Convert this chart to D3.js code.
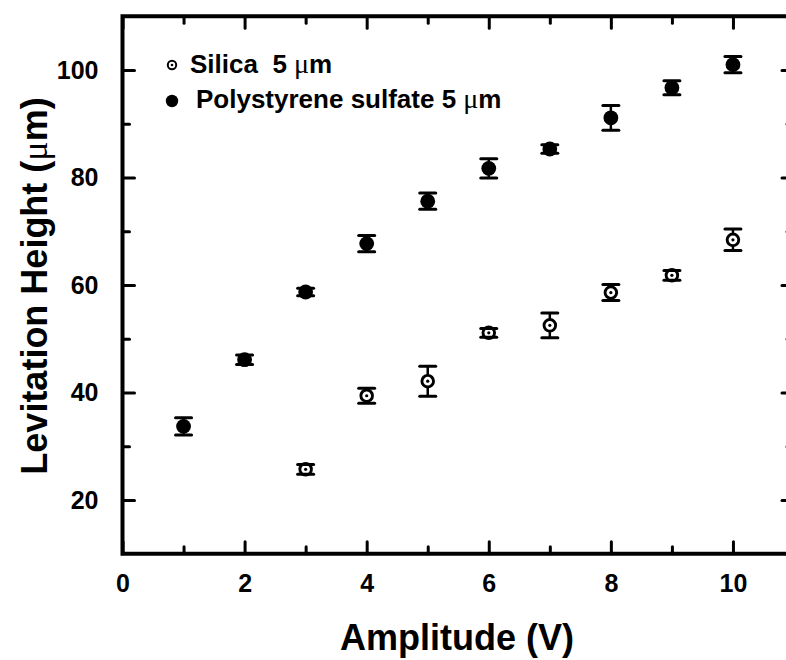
<!DOCTYPE html>
<html>
<head>
<meta charset="utf-8">
<script src="https://cdn.jsdelivr.net/npm/d3@7"></script>
<style>
  html, body { margin: 0; padding: 0; background: #fff; }
  svg { display: block; font-family: "Liberation Sans", Arial, sans-serif; }
</style>
</head>
<body>
<svg id="chart" width="786" height="660"></svg>
<script>
// Polystyrene sulfate particles (filled circles)
const psAmplitude = [1, 2, 3, 4, 5, 6, 7, 8, 9, 10];
const psHeight    = [33.7, 46.1, 58.7, 67.7, 75.6, 81.7, 85.3, 91.1, 96.7, 101.0];
const psError     = [1.6, 0.9, 0.7, 1.5, 1.5, 1.8, 0.8, 2.3, 1.3, 1.5];

// Silica particles (open circles with a centre dot)
const silicaAmplitude = [3, 4, 5, 6, 7, 8, 9, 10];
const silicaHeight    = [25.7, 39.4, 42.1, 51.1, 52.5, 58.6, 61.8, 68.4];
const silicaError     = [0.9, 1.4, 2.8, 0.8, 2.3, 1.5, 0.9, 2.0];

// Axis ticks
const xMajor = [0, 2, 4, 6, 8, 10];
const xMinor = [1, 3, 5, 7, 9];
const yMajor = [20, 40, 60, 80, 100];
const yMinor = [30, 50, 70, 90];

// Legend entries (non-breaking spaces keep the double gap)
const legendLabels = ["Silica\u00a0\u00a05\u00a0", "Polystyrene sulfate 5\u00a0"];

const svg = d3.select("#chart");
const x = d3.scaleLinear().domain([0, 11]).range([122.5, 794]);
const y = d3.scaleLinear().domain([10, 110]).range([553.75, 16.25]);

const plotLeft = x(0), plotRight = x(11), plotTop = y(110), plotBottom = y(10);
const ink = "#000";
const sans = "Liberation Sans, Arial, sans-serif";

// Tick marks pointing inwards on all four sides
function ticks(axisGen, transform, values, size) {
  const g = svg.append("g").attr("transform", transform)
    .call(axisGen.tickValues(values).tickSizeInner(-size).tickSizeOuter(0).tickFormat(""));
  g.select(".domain").remove();
  g.selectAll(".tick line").attr("stroke", ink).attr("stroke-width", 3).attr("stroke-linecap", "round");
  return g;
}
ticks(d3.axisBottom(x), `translate(0,${plotBottom})`, xMajor, 12);
ticks(d3.axisBottom(x), `translate(0,${plotBottom})`, xMinor, 7);
ticks(d3.axisTop(x), `translate(0,${plotTop})`, xMajor, 12);
ticks(d3.axisTop(x), `translate(0,${plotTop})`, xMinor, 7);
ticks(d3.axisLeft(y), `translate(${plotLeft},0)`, yMajor, 12);
ticks(d3.axisLeft(y), `translate(${plotLeft},0)`, yMinor, 7);
ticks(d3.axisRight(y), `translate(${plotRight},0)`, yMajor, 12);
ticks(d3.axisRight(y), `translate(${plotRight},0)`, yMinor, 7);

// Frame
svg.append("rect")
  .attr("x", plotLeft).attr("y", plotTop)
  .attr("width", plotRight - plotLeft).attr("height", plotBottom - plotTop)
  .attr("fill", "none").attr("stroke", ink).attr("stroke-width", 4);

// Tick labels
const xl = svg.append("g").attr("transform", `translate(0,${plotBottom})`)
  .call(d3.axisBottom(x).tickValues(xMajor).tickSize(0).tickPadding(20).tickFormat(d3.format("d")));
xl.select(".domain").remove();
xl.selectAll("text").attr("font-size", 25).attr("font-weight", "bold").attr("fill", ink)
  .attr("font-family", sans);

const yl = svg.append("g").attr("transform", `translate(${plotLeft},0)`)
  .call(d3.axisLeft(y).tickValues(yMajor).tickSize(0).tickPadding(24).tickFormat(d3.format("d")));
yl.select(".domain").remove();
yl.selectAll("text").attr("font-size", 25).attr("font-weight", "bold").attr("fill", ink)
  .attr("font-family", sans);

// Axis titles
svg.append("text")
  .attr("x", 457).attr("y", 650)
  .attr("text-anchor", "middle")
  .attr("font-size", 36).attr("font-weight", "bold").attr("fill", ink)
  .text("Amplitude (V)");

const yt = svg.append("text")
  .attr("transform", "translate(47,286) rotate(-90)")
  .attr("text-anchor", "middle")
  .attr("font-size", 36).attr("font-weight", "bold").attr("fill", ink);
yt.append("tspan").text("Levitation Height (");
yt.append("tspan").attr("font-weight", "normal").attr("font-family", "Liberation Serif, serif").text("\u03bc");
yt.append("tspan").text("m)");

// Error bars and markers
function series(xs, ys, es, kind) {
  const g = svg.append("g");
  const data = xs.map((a, i) => ({ a, h: ys[i], e: es[i] }));
  // stems
  g.selectAll("line.stem").data(data).join("line")
    .attr("class", "stem")
    .attr("x1", d => x(d.a)).attr("x2", d => x(d.a))
    .attr("y1", d => y(d.h + d.e)).attr("y2", d => y(d.h - d.e))
    .attr("stroke", ink).attr("stroke-width", 2.5);
  // markers
  if (kind === "filled") {
    g.selectAll("circle.m").data(data).join("circle")
      .attr("class", "m")
      .attr("cx", d => x(d.a)).attr("cy", d => y(d.h)).attr("r", 7.4)
      .attr("fill", ink);
  } else {
    g.selectAll("circle.m").data(data).join("circle")
      .attr("class", "m")
      .attr("cx", d => x(d.a)).attr("cy", d => y(d.h)).attr("r", 5.8)
      .attr("fill", "#fff").attr("stroke", ink).attr("stroke-width", 2.9);
    g.selectAll("circle.c").data(data).join("circle")
      .attr("class", "c")
      .attr("cx", d => x(d.a)).attr("cy", d => y(d.h)).attr("r", 1.6)
      .attr("fill", ink);
  }
  // caps
  [["capt", 1], ["capb", -1]].forEach(([cls, sign]) => {
    g.selectAll("line." + cls).data(data).join("line")
      .attr("class", cls)
      .attr("x1", d => x(d.a) - 8).attr("x2", d => x(d.a) + 8)
      .attr("y1", d => y(d.h + sign * d.e))
      .attr("y2", d => y(d.h + sign * d.e))
      .attr("stroke", ink).attr("stroke-width", 3).attr("stroke-linecap", "round");
  });
}
series(silicaAmplitude, silicaHeight, silicaError, "open");
series(psAmplitude, psHeight, psError, "filled");

// Legend
const lg = svg.append("g");
lg.append("circle").attr("cx", 172).attr("cy", 65).attr("r", 4.2)
  .attr("fill", "#fff").attr("stroke", ink).attr("stroke-width", 2);
lg.append("circle").attr("cx", 172).attr("cy", 65).attr("r", 1.3).attr("fill", ink);
lg.append("circle").attr("cx", 172).attr("cy", 101).attr("r", 6.2).attr("fill", ink);

[[190, 73], [196, 108]].forEach(([tx, ty], i) => {
  const t = lg.append("text").attr("x", tx).attr("y", ty)
    .attr("font-size", 26).attr("font-weight", "bold").attr("fill", ink);
  t.append("tspan").text(legendLabels[i]);
  t.append("tspan").attr("font-weight", "normal").attr("font-family", "Liberation Serif, serif")
    .attr("font-size", 28).text("\u03bc");
  t.append("tspan").text("m");
});
</script>
</body>
</html>
